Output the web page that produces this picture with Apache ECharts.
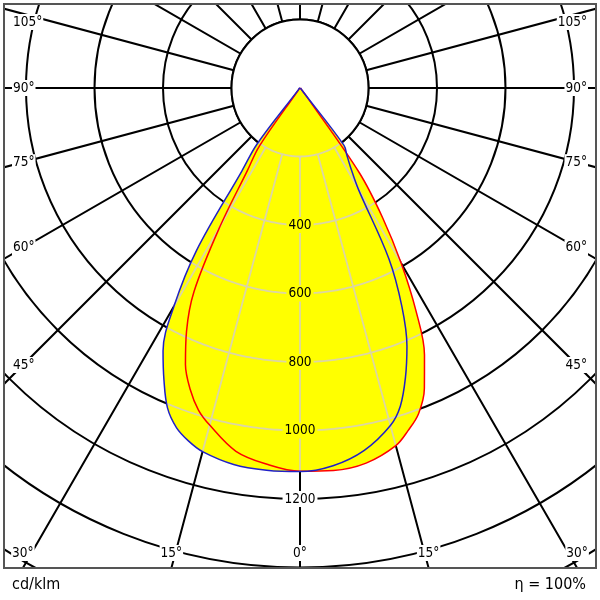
<!DOCTYPE html>
<html>
<head>
<meta charset="utf-8">
<script src="https://cdn.jsdelivr.net/npm/echarts@6.0.0/dist/echarts.min.js"></script>
<style>
html,body{margin:0;padding:0;background:#ffffff;}
#chart{width:600px;height:600px;}
</style>
</head>
<body>
<div id="chart"></div>
<script>
// gamma angles (degrees from nadir)
const gammas    = [0, 5, 10, 15, 17.5, 20, 22.5, 25, 27.5, 30, 32.5, 35, 37.5, 40, 42.5, 45, 50, 60, 70, 80, 90];
// luminous intensity, cd/klm
const blueLeft  = [1120,1120,1116,1099,1081,1055,1011,940,866,736,562,296,205,12,6,5,4,3,2,1,0];
const blueRight = [1120,1107,1075,1020,974,900,816,704,562,340,275,238,211,15,8,5,4,3,2,1,0];
const redLeft   = [1118,1103,1077,1019,986,937,874,784,670,468,286,206,10,6,5,4,3,2,1,1,0];
const redRight  = [1120,1121,1112,1081,1049,1012,949,860,733,591,449,302,40,15,8,5,4,3,2,1,0];
// axis ticks / labels
const radiusStep  = 200;
const radiusMax   = 1800;
const radiusTicks = [400, 600, 800, 1000, 1200];
const angleStep   = 15;
const angleTicks  = [0, 15, 30, 45, 60, 75, 90, 105];
const unitLabel   = 'cd/klm';
const effLabel    = 'η = 100%';

const FRAME = {x0: 4, y0: 4, x1: 596, y1: 568};
const FONT = '"DejaVu Sans Condensed", "DejaVu Sans", sans-serif';
const SMOOTH = 0.35;

function interp(arr, t) {
  if (t <= gammas[0]) return arr[0];
  for (let i = 1; i < gammas.length; i++) {
    if (t <= gammas[i]) {
      const f = (t - gammas[i-1]) / (gammas[i] - gammas[i-1]);
      return arr[i-1] + f * (arr[i] - arr[i-1]);
    }
  }
  return arr[arr.length - 1];
}
function envelope(side, t) {
  return side < 0 ? Math.max(interp(blueLeft, t), interp(redLeft, t))
                  : Math.max(interp(blueRight, t), interp(redRight, t));
}
function angleValue(phi) { return phi >= 0 ? phi : 360 + phi; }
function curveData(left, right) {
  const d = [];
  for (let i = gammas.length - 1; i > 0; i--) d.push([left[i], angleValue(-gammas[i])]);
  d.push([(left[0] + right[0]) / 2, 0]);
  for (let i = 1; i < gammas.length; i++) d.push([right[i], gammas[i]]);
  return d;
}
function reach(side, R) {
  let t = 0;
  while (t < 90 && envelope(side, t + 0.1) >= R) t += 0.1;
  return t;
}

const chart = echarts.init(document.getElementById('chart'), null, {renderer: 'canvas'});

const gridGrey = '#dcd6a4';

const option = {
  animation: false,
  backgroundColor: '#ffffff',
  polar: {center: [300, 88], radius: radiusMax * 0.3425},
  angleAxis: {
    type: 'value', min: 0, max: 360, interval: angleStep,
    startAngle: -90, clockwise: false,
    axisLine: {show: false}, axisTick: {show: false}, axisLabel: {show: false},
    splitLine: {show: true, lineStyle: {color: '#000', width: 2}}
  },
  radiusAxis: {
    type: 'value', min: 0, max: radiusMax, interval: radiusStep,
    axisLine: {show: false}, axisTick: {show: false}, axisLabel: {show: false},
    splitLine: {show: true, lineStyle: {color: '#000', width: 2}}
  },
  series: [
    { // inner white disk
      type: 'custom', coordinateSystem: 'polar', z: 2, silent: true, data: [[0, 0]],
      renderItem: function (params, api) {
        const c = api.coord([0, 0]);
        const e = api.coord([radiusStep, 90]);
        const r = Math.hypot(e[0] - c[0], e[1] - c[1]);
        return {type: 'circle', shape: {cx: c[0], cy: c[1], r: r},
                style: {fill: '#ffffff', stroke: '#000', lineWidth: 2}};
      }
    },
    { // yellow fill, red plane
      type: 'line', coordinateSystem: 'polar', z: 3, silent: true, symbol: 'none', smooth: SMOOTH,
      data: curveData(redLeft, redRight),
      lineStyle: {width: 0, opacity: 0},
      areaStyle: {color: '#ffff00', opacity: 1}
    },
    { // yellow fill, blue plane
      type: 'line', coordinateSystem: 'polar', z: 3, silent: true, symbol: 'none', smooth: SMOOTH,
      data: curveData(blueLeft, blueRight),
      lineStyle: {width: 0, opacity: 0},
      areaStyle: {color: '#ffff00', opacity: 1}
    },
    { // light grid inside the lobe
      type: 'custom', coordinateSystem: 'polar', z: 4, silent: true, data: [[0, 0]],
      renderItem: function (params, api) {
        const els = [];
        const st = {stroke: gridGrey, lineWidth: 1.8, fill: null};
        const u0 = envelope(1, 0);
        for (let R = radiusStep; R < u0; R += radiusStep) {
          const tl = reach(-1, R), tr = reach(1, R);
          const pts = [];
          for (let phi = -tl; phi < tr; phi += 0.5) pts.push(api.coord([R, angleValue(phi)]));
          pts.push(api.coord([R, angleValue(tr)]));
          els.push({type: 'polyline', shape: {points: pts}, style: st});
        }
        for (let phi = -90; phi <= 90; phi += angleStep) {
          const side = phi < 0 ? -1 : 1;
          const u = envelope(side, Math.abs(phi));
          if (u > radiusStep) {
            const a = api.coord([radiusStep, angleValue(phi)]);
            const b = api.coord([u, angleValue(phi)]);
            els.push({type: 'line', shape: {x1: a[0], y1: a[1], x2: b[0], y2: b[1]}, style: st});
          }
        }
        return {type: 'group', children: els};
      }
    },
    {
      type: 'line', coordinateSystem: 'polar', z: 5, silent: true, symbol: 'none', smooth: SMOOTH,
      data: curveData(redLeft, redRight),
      lineStyle: {color: '#ff0000', width: 1.5}
    },
    {
      type: 'line', coordinateSystem: 'polar', z: 5, silent: true, symbol: 'none', smooth: SMOOTH,
      data: curveData(blueLeft, blueRight),
      lineStyle: {color: '#2020c8', width: 1.5}
    },
    { // tick labels
      type: 'custom', coordinateSystem: 'polar', z: 6, silent: true, data: [[0, 0]],
      renderItem: function (params, api) {
        const c = api.coord([0, 0]);
        const els = [];
        const u0 = envelope(1, 0);
        radiusTicks.forEach(function (R) {
          const p = api.coord([R, 0]);
          els.push({type: 'text', x: p[0], y: p[1], style: {
            text: String(R), font: '13.5px ' + FONT, fill: '#000',
            align: 'center', verticalAlign: 'middle',
            backgroundColor: R < u0 ? '#ffff00' : '#ffffff', padding: [1, 2]}});
        });
        angleTicks.forEach(function (g) {
          [-1, 1].forEach(function (s) {
            if (g === 0 && s < 0) return;
            const q = api.coord([1000, angleValue(s * g)]);
            const dx = q[0] - c[0], dy = q[1] - c[1];
            let x, y, align = 'center', bottom = false;
            if (dy > 1e-6) {
              const t = (FRAME.y1 - c[1]) / dy;
              const xb = c[0] + t * dx;
              if (xb >= FRAME.x0 && xb <= FRAME.x1) {
                bottom = true;
                x = Math.min(Math.max(xb, FRAME.x0 + 16), FRAME.x1 - 16);
                y = FRAME.y1 - 15;
              }
            }
            if (!bottom) {
              const xc = s < 0 ? FRAME.x0 + 19 : FRAME.x1 - 19;
              y = c[1] + dy / dx * (xc - c[0]);
              y = Math.min(Math.max(y, FRAME.y0 + 18), FRAME.y1 - 18);
              x = s < 0 ? FRAME.x0 + 8 : FRAME.x1 - 8;
              align = s < 0 ? 'left' : 'right';
            }
            els.push({type: 'text', x: x, y: y, style: {
              text: g + '°', font: '13.5px ' + FONT, fill: '#000',
              align: align, verticalAlign: 'middle',
              backgroundColor: '#ffffff', padding: [1, 1]}});
          });
        });
        return {type: 'group', children: els};
      }
    }
  ],
  graphic: [
    {type: 'rect', z: 100, silent: true, shape: {x: 0, y: 0, width: 600, height: FRAME.y0}, style: {fill: '#fff'}},
    {type: 'rect', z: 100, silent: true, shape: {x: 0, y: FRAME.y1, width: 600, height: 600 - FRAME.y1}, style: {fill: '#fff'}},
    {type: 'rect', z: 100, silent: true, shape: {x: 0, y: 0, width: FRAME.x0, height: 600}, style: {fill: '#fff'}},
    {type: 'rect', z: 100, silent: true, shape: {x: FRAME.x1, y: 0, width: 600 - FRAME.x1, height: 600}, style: {fill: '#fff'}},
    {type: 'rect', z: 101, silent: true,
     shape: {x: FRAME.x0, y: FRAME.y0, width: FRAME.x1 - FRAME.x0, height: FRAME.y1 - FRAME.y0},
     style: {fill: 'transparent', stroke: '#555555', lineWidth: 2}},
    {type: 'text', z: 101, silent: true, x: 12, y: 585,
     style: {text: unitLabel, font: '16px ' + FONT, fill: '#000', align: 'left', verticalAlign: 'middle'}},
    {type: 'text', z: 101, silent: true, x: 586, y: 585,
     style: {text: effLabel, font: '16px ' + FONT, fill: '#000', align: 'right', verticalAlign: 'middle'}}
  ]
};
chart.setOption(option);
</script>
</body>
</html>
